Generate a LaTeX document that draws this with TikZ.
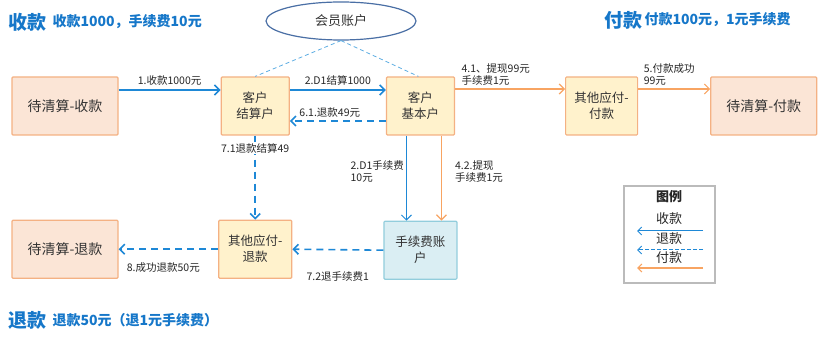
\documentclass[tikz,border=0pt]{standalone}
\usepackage{fontspec}
\setmainfont{Noto Sans CJK SC}
\usepackage{xcolor}
\usepackage{tikz}
\usetikzlibrary{arrows.meta, positioning, shapes.geometric}

\definecolor{flowblue}{HTML}{1E88D6}
\definecolor{titleblue}{HTML}{1677C9}
\definecolor{payorange}{HTML}{F8A462}
\definecolor{peachfill}{HTML}{FBE5D6}
\definecolor{peachdraw}{HTML}{F4B183}
\definecolor{yellowfill}{HTML}{FFF2CC}
\definecolor{feefill}{HTML}{DAEEF3}
\definecolor{feedraw}{HTML}{92CDDC}
\definecolor{memberdraw}{HTML}{4A6FA5}
\definecolor{linkblue}{HTML}{5DADE2}
\definecolor{legenddraw}{HTML}{BBBBBB}

\begin{document}
\begin{tikzpicture}[
    x=1pt, y=1pt,
    font=\fontsize{10.5}{12.5}\selectfont,
    box/.style={
      draw,
      rounded corners=1pt,
      line width=1.2pt,
      align=center,
      minimum width=68pt,
      minimum height=58pt,
      inner sep=2pt,
      text=black!80,
      font=\fontsize{12.5}{16}\selectfont
    },
    pending/.style={
      box,
      fill=peachfill,
      draw=peachdraw,
      minimum width=106pt,
      font=\fontsize{14}{17}\selectfont
    },
    acct/.style={
      box,
      fill=yellowfill,
      draw=peachdraw
    },
    feebox/.style={
      box,
      fill=feefill,
      draw=feedraw
    },
    member/.style={
      ellipse,
      draw=memberdraw,
      fill=white,
      line width=1.2pt,
      minimum width=150pt,
      minimum height=38pt,
      text=black!80,
      font=\fontsize{13}{15}\selectfont
    },
    inflow/.style={
      -{Straight Barb[length=5pt, width=10pt]},
      line width=1.6pt,
      draw=flowblue
    },
    refund/.style={
      inflow,
      dash pattern=on 7pt off 5pt
    },
    payout/.style={
      -{Straight Barb[length=5pt, width=10pt]},
      line width=1.2pt,
      draw=payorange
    },
    link/.style={
      draw=linkblue,
      line width=0.8pt,
      dash pattern=on 4pt off 3pt
    },
    tag/.style={
      align=left,
      inner sep=1pt,
      text=black!85
    },
    title/.style={
      anchor=west,
      inner sep=0pt,
      text=titleblue,
      font=\bfseries\fontsize{19}{22}\selectfont
    },
    subtitle/.style={
      inner sep=0pt,
      text=titleblue,
      font=\bfseries\fontsize{14}{16}\selectfont
    },
    legendtext/.style={
      inner sep=0pt,
      text=black!85,
      font=\fontsize{13}{15}\selectfont
    }
  ]

    \useasboundingbox (0,0) rectangle (818,-344);

    % Headings
    \node[title] (inTitle) at (8,-22) {收款};
    \node[subtitle, right=6pt of inTitle] (inNote) {收款1000，手续费10元};
    \node[title] (outTitle) at (604,-20) {付款};
    \node[subtitle, right=2pt of outTitle] (outNote) {付款100元，1元手续费};
    \node[title] (backTitle) at (8,-320) {退款};
    \node[subtitle, right=6pt of backTitle] (backNote) {退款50元（退1元手续费）};

    % Accounts, top row
    \node[pending] (pendIn) at (65,-106) {待清算-收款};
    \node[acct, right=102pt of pendIn] (settle) {客户\\结算户};
    \node[acct, right=96pt of settle] (basic) {客户\\基本户};
    \node[acct, right=110pt of basic, minimum width=72pt] (otherPay) {其他应付-\\付款};
    \node[pending, right=72pt of otherPay, minimum width=106pt] (pendOut) {待清算-付款};

    % Accounts, bottom row
    \node[pending, below=84pt of pendIn] (pendBack) {待清算-退款};
    \node[acct, below=84pt of settle, minimum width=73pt] (otherBack) {其他应付-\\退款};
    \node[feebox, below=85pt of basic, minimum width=73pt] (feeAcct) {手续费账\\户};

    \node[member] (member) at (341,-21) {会员账户};
    \draw[link] (member.south) -- (settle.north);
    \draw[link] (member.south) -- ([xshift=-2pt]basic.north);

    % Collection
    \draw[inflow] ([yshift=16pt]pendIn.east) -- node[tag, above=3pt] {1.收款1000元} ([yshift=16pt]settle.west);
    \draw[inflow] ([yshift=16pt]settle.east) -- node[tag, above=3pt] {2.D1结算1000} ([yshift=16pt]basic.west);
    \draw[inflow, line width=1pt] ([xshift=-14pt]basic.south) -- node[tag, pos=0.42, left=1pt] {2.D1手续费\\10元} ([xshift=-14pt]feeAcct.north);

    % Payment
    \draw[payout] ([yshift=17pt]basic.east) -- node[tag, pos=0, anchor=south west, xshift=5pt, yshift=2pt] {4.1、提现99元\\手续费1元} ([yshift=17pt]otherPay.west);
    \draw[payout] ([xshift=21pt]basic.south) -- node[tag, pos=0.42, right=12pt] {4.2.提现\\手续费1元} ([xshift=21pt]feeAcct.north);
    \draw[payout] ([yshift=17pt]otherPay.east) -- node[tag, pos=0, anchor=south west, xshift=4pt, yshift=2pt] {5.付款成功\\99元} ([yshift=17pt]pendOut.west);

    % Refund
    \draw[refund] ([yshift=-15pt]basic.west) -- node[tag, above=2pt, xshift=-8pt] {6.1.退款49元} ([yshift=-15pt]settle.east);
    \draw[refund] (settle.south) -- node[tag, pos=0.15, fill=white] {7.1退款结算49} (otherBack.north);
    \draw[refund] (feeAcct.west) -- node[tag, below=20pt] {7.2退手续费1} (otherBack.east);
    \draw[refund] (otherBack.west) -- node[tag, below=12pt, xshift=-5pt] {8.成功退款50元} (pendBack.east);

    % Legend
    \node[draw=legenddraw, line width=1.2pt, minimum width=91pt, minimum height=97pt] (legend) at (669.5,-234.5) {};
    \node[legendtext, font=\bfseries\fontsize{13}{15}\selectfont] (legendTitle) at (669,-197) {图例};
    \node[legendtext] (legIn) at (669,-219) {收款};
    \node[legendtext] (legBack) at (669,-239) {退款};
    \node[legendtext] (legOut) at (669,-258) {付款};
    \coordinate (legInA) at (703,-231);
    \coordinate (legInB) at (637,-231);
    \coordinate (legBackA) at (703,-250);
    \coordinate (legBackB) at (637,-250);
    \coordinate (legOutA) at (703,-268);
    \coordinate (legOutB) at (637,-268);
    \draw[inflow, line width=1pt, -{Straight Barb[length=4pt, width=8pt]}] (legInA) -- (legInB);
    \draw[inflow, line width=1pt, dash pattern=on 4pt off 2pt, -{Straight Barb[length=4pt, width=8pt]}] (legBackA) -- (legBackB);
    \draw[payout, -{Straight Barb[length=4pt, width=8pt]}] (legOutA) -- (legOutB);

  \end{tikzpicture}
\end{document}
